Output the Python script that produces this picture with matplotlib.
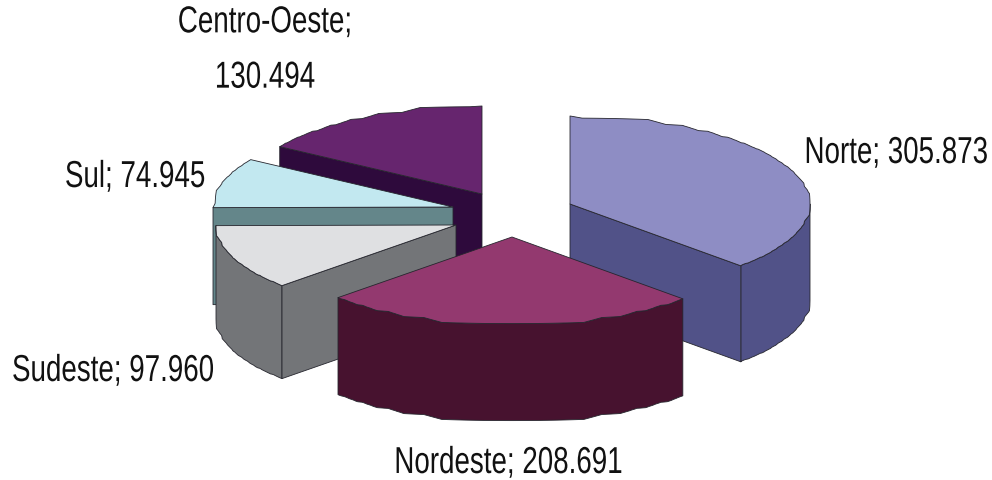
import numpy as np
import matplotlib
matplotlib.use("Agg")
import matplotlib.pyplot as plt
from matplotlib.patches import Polygon
from matplotlib.patheffects import AbstractPathEffect
from matplotlib.text import Text
from matplotlib.transforms import Affine2D, Bbox

categories = ["Norte", "Nordeste", "Sudeste", "Sul", "Centro-Oeste"]
values = [305873, 208691, 97960, 74945, 130494]
value_labels = ["305.873", "208.691", "97.960", "74.945", "130.494"]

top_colors = ["#8E8DC4", "#93396F", "#DFE0E2", "#C2E8F0", "#66256E"]
side_colors = ["#515288", "#47122F", "#737578", "#64868A", "#2E0A3C"]
apex_x = [570, 512, 456, 453, 482]
apex_y = [205, 238, 226, 208, 195]
depths = [96, 97, 93, 97, 95]
draw_order = [4, 3, 0, 2, 1]
label_pos = [(988, 154), (508.5, 464), (12, 372), (135, 178), (265, 51)]
label_ha = ["right", "center", "left", "center", "center"]

RX, RY = 240, 88
GRID = 6
SQUEEZE = 0.74

fig = plt.figure(figsize=(9.92, 4.81), dpi=100)
ax = fig.add_axes([0, 0, 1, 1])
ax.set_xlim(0, 992)
ax.set_ylim(481, 0)
ax.axis("off")

fractions = np.array(values) / sum(values)
ends = np.cumsum(fractions) * 360
starts = ends - fractions * 360
EDGE = dict(edgecolor="#26262e", linewidth=0.6, joinstyle="round")


class Squeeze(AbstractPathEffect):
    """Narrow the glyphs horizontally about the text's anchor."""

    def __init__(self, factor, centre):
        super().__init__()
        self.factor, self.centre = factor, centre

    def draw_path(self, renderer, gc, tpath, affine, rgbFace=None):
        squeeze = Affine2D().translate(-self.centre, 0).scale(self.factor, 1).translate(self.centre, 0)
        renderer.draw_path(gc, tpath, affine + squeeze, rgbFace)


class NarrowText(Text):
    """Text whose reported extent is the one it really occupies once narrowed."""

    def __init__(self, x, y, s, factor, centre, **kw):
        super().__init__(x, y, s, **kw)
        self.factor, self.centre = factor, centre
        self.set_path_effects([Squeeze(factor, centre)])

    def get_window_extent(self, renderer=None, dpi=None):
        b = super().get_window_extent(renderer, dpi)
        c, f = self.centre, self.factor
        return Bbox.from_extents(c + (b.x0 - c) * f, b.y0, c + (b.x1 - c) * f, b.y1)


def rim(cx, cy, a0, a1):
    """Stepped elliptical rim, like the low resolution original."""
    t = np.append(np.radians(np.arange(a0, a1, 0.5)), np.radians(a1))
    x = cx + RX * np.sin(t)
    y = cy - RY * np.cos(t)
    k = np.ones(9) / 9
    xs = np.convolve(np.pad(np.round(x / GRID) * GRID, 4, mode="edge"), k, mode="valid")
    ys = np.convolve(np.pad(np.round(y / GRID) * GRID, 4, mode="edge"), k, mode="valid")
    idx = np.arange(t.size)
    w = 0.7 * np.clip(np.minimum(idx, idx[::-1]) / 6, 0, 1)
    return np.column_stack([x + (xs - x) * w, y + (ys - y) * w])


for i in draw_order:
    cx, cy, d = apex_x[i], apex_y[i], depths[i]
    a0, a1 = starts[i], ends[i]
    arc = rim(cx, cy, a0, a1)
    apex = np.array([cx, cy])
    down = np.array([0, d])
    z = draw_order.index(i) + 1
    lo, hi = max(a0, 90), min(a1, 270)
    if hi - lo > 2:
        wall = rim(cx, cy, lo, hi)
        ax.add_patch(Polygon(np.vstack([wall, (wall + down)[::-1]]), closed=True,
                             facecolor=side_colors[i], zorder=z, **EDGE))
    if 180 < a0 < 360:
        p = arc[0]
        ax.add_patch(Polygon([apex, p, p + down, apex + down], closed=True,
                             facecolor=side_colors[i], zorder=z, **EDGE))
    if 0 < a1 < 180:
        p = arc[-1]
        ax.add_patch(Polygon([apex, p, p + down, apex + down], closed=True,
                             facecolor=side_colors[i], zorder=z, **EDGE))
    ax.add_patch(Polygon(np.vstack([apex, arc]), closed=True,
                         facecolor=top_colors[i], zorder=z, **EDGE))

for i, (x, y) in enumerate(label_pos):
    sep = "\n" if categories[i] == "Centro-Oeste" else " "
    txt = f"{categories[i]};{sep}{value_labels[i]}"
    anchor_px = ax.transData.transform((x, y))[0]
    ax.add_artist(NarrowText(x, y, txt, SQUEEZE, anchor_px,
                             family="Liberation Sans", fontsize=27, color="#111111",
                             ha=label_ha[i], va="center", linespacing=1.69,
                             clip_on=False, zorder=20))

fig.savefig("out.png", dpi=100)
